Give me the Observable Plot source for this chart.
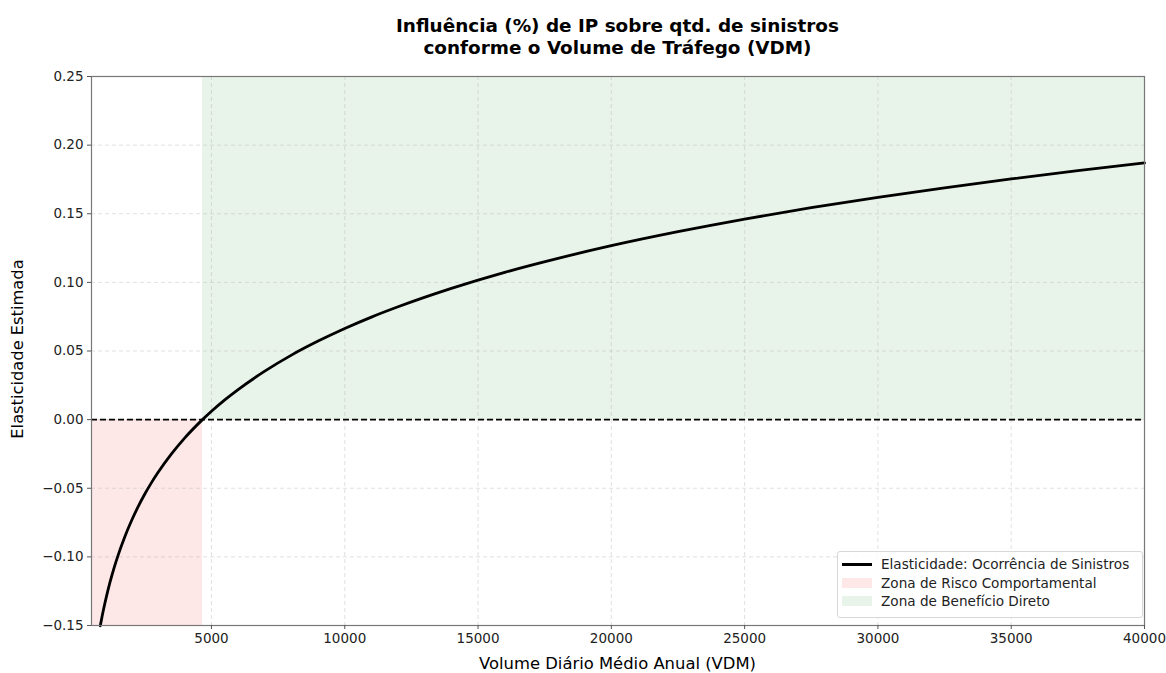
<!DOCTYPE html>
<html><head><meta charset="utf-8">
<script src="https://cdn.jsdelivr.net/npm/d3@7"></script>
<script src="https://cdn.jsdelivr.net/npm/@observablehq/plot@0.6"></script>
<style>
body{margin:0;background:#fff;font-family:"DejaVu Sans",sans-serif;}
#wrap{position:relative;width:1166px;height:673px;overflow:hidden;}
.t{position:absolute;white-space:nowrap;color:#000;}
#title{left:0;width:1235px;top:15px;text-align:center;font-weight:bold;font-size:18.4px;line-height:21.5px;}
#xlab{left:0;width:1235px;top:654px;text-align:center;font-size:16.4px;}
#ylab{left:17px;top:349px;font-size:16.3px;transform:translate(-50%,-50%) rotate(-90deg);}
#legend{position:absolute;left:837px;top:551px;width:304px;height:65px;border:1px solid #d8d8d8;border-radius:3px;background:rgba(255,255,255,0.85);font-size:13.6px;}
.row{position:absolute;left:4px;height:18px;display:flex;align-items:center;}
.sw{width:30px;margin-right:9px;}
</style></head><body><div id="wrap">
<div id="title" class="t">Influência (%) de IP sobre qtd. de sinistros<br>conforme o Volume de Tráfego (VDM)</div>
<div id="xlab" class="t">Volume Diário Médio Anual (VDM)</div>
<div id="ylab" class="t">Elasticidade Estimada</div>
</div>
<script>
// Curve
const vdm = [830, 900, 1000, 1100, 1200, 1350, 1500, 1750, 2000, 2250, 2500, 2750, 3000, 3500, 4000, 4663, 5000, 5500, 6000, 7000, 8000, 9000, 10000, 11000, 12000, 14000, 16000, 18000, 20000, 22500, 25000, 27500, 30000, 32500, 35000, 37500, 40000];
const elasticity = [-0.1502, -0.1431, -0.1340, -0.1257, -0.1181, -0.1078, -0.0987, -0.0853, -0.0737, -0.0634, -0.0542, -0.0459, -0.0384, -0.0250, -0.0133, 0.0000, 0.0061, 0.0144, 0.0219, 0.0353, 0.0470, 0.0572, 0.0664, 0.0747, 0.0822, 0.0956, 0.1073, 0.1175, 0.1267, 0.1369, 0.1461, 0.1544, 0.1620, 0.1689, 0.1754, 0.1814, 0.1870];

// Zones
const zoneNames = ["Zona de Risco Comportamental", "Zona de Benefício Direto"];
const zoneStart = [500, 4663];
const zoneEnd = [4663, 40000];
const zoneLow = [-0.15, 0.0];
const zoneHigh = [0.0, 0.25];
const zoneColors = ["#fde7e7", "#e8f3e9"];

const lineName = "Elasticidade: Ocorrência de Sinistros";
const xTicks = [5000, 10000, 15000, 20000, 25000, 30000, 35000, 40000];
const yTicks = [-0.15, -0.10, -0.05, 0.00, 0.05, 0.10, 0.15, 0.20, 0.25];
const xDomain = [500, 40000];
const yDomain = [-0.15, 0.25];

const curve = vdm.map((v, i) => ({v, e: elasticity[i]}));
const zones = zoneNames.map((n, i) => ({n, x1: zoneStart[i], x2: zoneEnd[i], y1: zoneLow[i], y2: zoneHigh[i], c: zoneColors[i]}));

const chart = Plot.plot({
  width: 1166, height: 673,
  marginLeft: 91, marginRight: 22, marginTop: 76, marginBottom: 48,
  style: {fontFamily: "DejaVu Sans", fontSize: "13.5px", color: "#000", background: "transparent"},
  x: {domain: xDomain, ticks: xTicks},
  y: {domain: yDomain, ticks: yTicks},
  marks: [
    Plot.rect(zones, {x1: "x1", x2: "x2", y1: "y1", y2: "y2", fill: "c"}),
    Plot.gridX(xTicks, {stroke: "#bbb", strokeOpacity: 0.55, strokeDasharray: "4,3", strokeWidth: 0.8}),
    Plot.gridY(yTicks, {stroke: "#bbb", strokeOpacity: 0.55, strokeDasharray: "4,3", strokeWidth: 0.8}),
    Plot.ruleY([0], {stroke: "#000", strokeWidth: 1.6, strokeDasharray: "6,3"}),
    Plot.line(curve, {x: "v", y: "e", stroke: "#000", strokeWidth: 2.8, curve: "monotone-x"}),
    Plot.frame({stroke: "#777", strokeWidth: 1.2}),
    Plot.axisX(xTicks, {tickSize: 4, tickFormat: d3.format("d"), label: null, stroke: "#555", fontSize: 13.5, tickPadding: 4, fill: "#222"}),
    Plot.axisY(yTicks, {tickSize: 4, tickFormat: d3.format(".2f"), label: null, stroke: "#555", fontSize: 13.5, tickPadding: 4, fill: "#222"})
  ]
});
const wrap = document.getElementById("wrap");
chart.style.position = "absolute"; chart.style.left = "0"; chart.style.top = "0";
wrap.prepend(chart);

const lg = document.createElement("div");
lg.id = "legend";
const entries = [{label: lineName, type: "line", c: "#000"}].concat(zones.map(z => ({label: z.n, type: "patch", c: z.c})));
entries.forEach((e, i) => {
  const r = document.createElement("div");
  r.className = "row"; r.style.top = (3 + i * 18.5) + "px";
  const s = document.createElement("div"); s.className = "sw";
  if (e.type === "line") { s.style.height = "3px"; s.style.background = e.c; }
  else { s.style.height = "10px"; s.style.background = e.c; }
  const t = document.createElement("span"); t.textContent = e.label; t.style.color = "#222";
  r.append(s, t); lg.append(r);
});
wrap.append(lg);
</script></body></html>
